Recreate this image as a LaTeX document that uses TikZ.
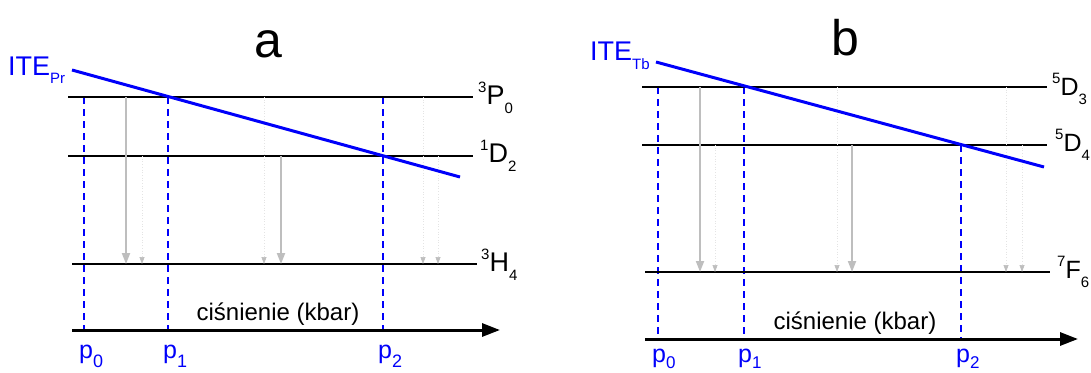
\documentclass[tikz,border=0pt]{standalone}
\usepackage{fontspec}
\setmainfont{Liberation Sans}
\usetikzlibrary{arrows.meta}
\definecolor{ite}{RGB}{0,0,250}
\definecolor{emis}{RGB}{190,190,190}
\definecolor{weak}{RGB}{228,228,228}
\newcommand{\enlvl}[4]{{\fontsize{#4}{#4}\selectfont\raisebox{12pt}{#1}}#2{\fontsize{#4}{#4}\selectfont\raisebox{-9pt}{#3}}}
\newcommand{\lowsub}[3]{{\fontsize{#3}{#3}\selectfont\raisebox{-#2}{#1}}}
\tikzset{
  x=1pt, y=-1pt,
  level/.style={line width=2pt, black},
  axisline/.style={line width=3pt, -{Triangle[length=18pt,width=13pt]}},
  iteline/.style={line width=3pt, ite},
  pline/.style={line width=1.5pt, ite, dash pattern=on 7pt off 5pt},
  strong/.style={line width=2pt, emis, -{Triangle[length=11pt,width=8pt]}},
  weakarr/.style={line width=0.7pt, weak, dotted, -{Triangle[length=7pt,width=5pt,color=emis,fill=emis]}},
  lbla/.style={anchor=base west, inner sep=0pt, font=\fontsize{27}{27}\selectfont},
  lblb/.style={anchor=base west, inner sep=0pt, font=\fontsize{25}{25}\selectfont},
  itelbl/.style={anchor=base west, inner sep=0pt, text=ite, font=\fontsize{27}{27}\selectfont},
  plabel/.style={anchor=base west, inner sep=0pt, text=ite, font=\fontsize{25}{25}\selectfont},
  axlbl/.style={anchor=base, inner sep=0pt, font=\fontsize{24}{24}\selectfont},
  titlelbl/.style={anchor=base, inner sep=0pt, font=\fontsize{50}{50}\selectfont},
}
\begin{document}
\begin{tikzpicture}
\useasboundingbox (0,0) rectangle (1091,372);
% ================= panel a =================
\coordinate (aP0l) at (68,97);  \coordinate (aP0r) at (473,97);
\coordinate (aD2l) at (68,156); \coordinate (aD2r) at (473,156);
\coordinate (aH4l) at (72,264); \coordinate (aH4r) at (477,264);
\coordinate (aAxl) at (72,330); \coordinate (aAxr) at (500,330);
\coordinate (aIs) at (72,70);   \coordinate (aIe) at (460,177);
\coordinate (ap0) at (84,97); \coordinate (ap1) at (168,97); \coordinate (ap2) at (383,97);
\coordinate (ax1) at (126,0); \coordinate (ax2) at (142,0);
\coordinate (ax3) at (264,0); \coordinate (ax4) at (281,0);
\coordinate (ax5) at (423,0); \coordinate (ax6) at (438,0);

\draw[pline] (ap0) -- (ap0 |- aAxl);
\draw[pline] (ap1) -- (ap1 |- aAxl);
\draw[pline] (ap2) -- (ap2 |- aAxl);

\draw[level] (aP0l) -- (aP0r);
\draw[level] (aD2l) -- (aD2r);
\draw[level] (aH4l) -- (aH4r);
\draw[axisline] (aAxl) -- (aAxr);

\draw[strong] (ax1 |- aP0l) -- (ax1 |- aH4l);
\draw[weakarr] (ax2 |- aD2l) -- (ax2 |- aH4l);
\draw[weakarr] (ax3 |- aP0l) -- (ax3 |- aH4l);
\draw[strong] (ax4 |- aD2l) -- (ax4 |- aH4l);
\draw[weakarr] (ax5 |- aP0l) -- (ax5 |- aH4l);
\draw[weakarr] (ax6 |- aD2l) -- (ax6 |- aH4l);

\draw[iteline] (aIs) -- (aIe);

\node[titlelbl] (ta) at (268,57) {a};
\node[itelbl] (ia) at (8,75) {ITE\lowsub{Pr}{8pt}{15}};
\node[lbla] (la1) at (478,104) {\enlvl{3}{P}{0}{15}};
\node[lbla] (la2) at (480,162) {\enlvl{1}{D}{2}{15}};
\node[lbla] (la3) at (481,271) {\enlvl{3}{H}{4}{15}};
\node[axlbl] (ca) at (278,320) {ciśnienie (kbar)};
\node[plabel] (pa0) at (79,358) {p\lowsub{0}{9pt}{18}};
\node[plabel] (pa1) at (163,358) {p\lowsub{1}{9pt}{18}};
\node[plabel] (pa2) at (378,358) {p\lowsub{2}{9pt}{18}};

% ================= panel b =================
\coordinate (bD3l) at (642,87);  \coordinate (bD3r) at (1047,87);
\coordinate (bD4l) at (642,145); \coordinate (bD4r) at (1047,145);
\coordinate (bF6l) at (645,272); \coordinate (bF6r) at (1050,272);
\coordinate (bAxl) at (645,339); \coordinate (bAxr) at (1078,339);
\coordinate (bIs) at (656,62);   \coordinate (bIe) at (1044,167);
\coordinate (bp0) at (658,87); \coordinate (bp1) at (744,87); \coordinate (bp2) at (961,145);
\coordinate (bx1) at (700,0); \coordinate (bx2) at (715,0);
\coordinate (bx3) at (837,0); \coordinate (bx4) at (852,0);
\coordinate (bx5) at (1006,0); \coordinate (bx6) at (1022,0);

\draw[pline] (bp0) -- (bp0 |- bAxl);
\draw[pline] (bp1) -- (bp1 |- bAxl);
\draw[pline] (bp2) -- (bp2 |- bAxl);

\draw[level] (bD3l) -- (bD3r);
\draw[level] (bD4l) -- (bD4r);
\draw[level] (bF6l) -- (bF6r);
\draw[axisline] (bAxl) -- (bAxr);

\draw[strong] (bx1 |- bD3l) -- (bx1 |- bF6l);
\draw[weakarr] (bx2 |- bD4l) -- (bx2 |- bF6l);
\draw[weakarr] (bx3 |- bD3l) -- (bx3 |- bF6l);
\draw[strong] (bx4 |- bD4l) -- (bx4 |- bF6l);
\draw[weakarr] (bx5 |- bD3l) -- (bx5 |- bF6l);
\draw[weakarr] (bx6 |- bD4l) -- (bx6 |- bF6l);

\draw[iteline] (bIs) -- (bIe);

\node[titlelbl] (tb) at (845,55) {b};
\node[itelbl] (ib) at (590,60) {ITE\lowsub{Tb}{9pt}{15}};
\node[lblb] (lb1) at (1052,95) {\enlvl{5}{D}{3}{15}};
\node[lblb] (lb2) at (1055,151) {\enlvl{5}{D}{4}{15}};
\node[lblb] (lb3) at (1057,278) {\enlvl{7}{F}{6}{15}};
\node[axlbl] (cb) at (855,329) {ciśnienie (kbar)};
\node[plabel] (pb0) at (652,362) {p\lowsub{0}{6pt}{17}};
\node[plabel] (pb1) at (738,362) {p\lowsub{1}{6pt}{17}};
\node[plabel] (pb2) at (956,362) {p\lowsub{2}{6pt}{17}};
\end{tikzpicture}
\end{document}
